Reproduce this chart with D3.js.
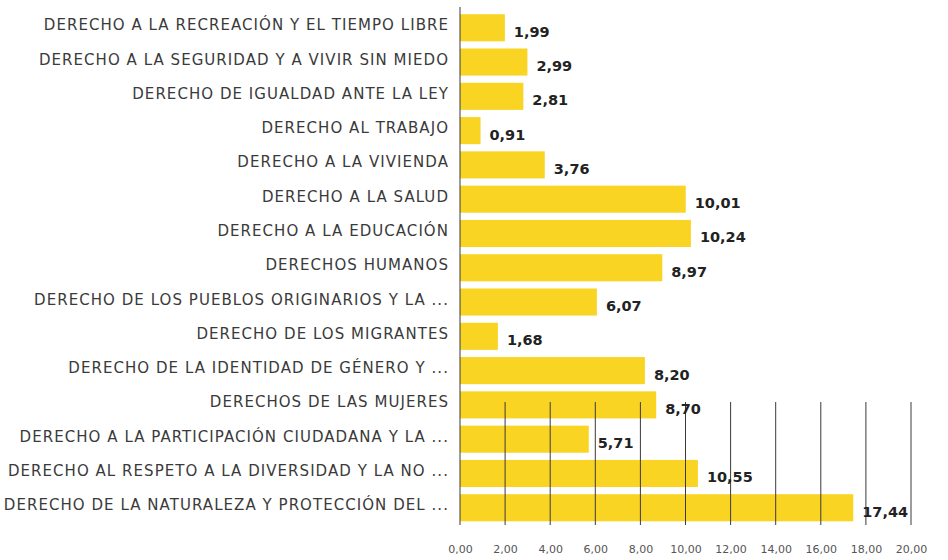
<!DOCTYPE html>
<html>
<head>
<meta charset="utf-8">
<script src="https://cdn.jsdelivr.net/npm/d3@7"></script>
<style>
  body { margin: 0; background: #fff; }
  svg text { font-family: "DejaVu Sans", sans-serif; }
</style>
</head>
<body>
<div id="chart"></div>
<script>
// Horizontal bar chart: percentage per right category

const CATEGORIES = [
  "DERECHO A LA RECREACIÓN Y EL TIEMPO LIBRE",
  "DERECHO A LA SEGURIDAD Y A VIVIR SIN MIEDO",
  "DERECHO DE IGUALDAD ANTE LA LEY",
  "DERECHO AL TRABAJO",
  "DERECHO A LA VIVIENDA",
  "DERECHO A LA SALUD",
  "DERECHO A LA EDUCACIÓN",
  "DERECHOS HUMANOS",
  "DERECHO DE LOS PUEBLOS ORIGINARIOS Y LA ...",
  "DERECHO DE LOS MIGRANTES",
  "DERECHO DE LA IDENTIDAD DE GÉNERO Y ...",
  "DERECHOS DE LAS MUJERES",
  "DERECHO A LA PARTICIPACIÓN CIUDADANA Y LA ...",
  "DERECHO AL RESPETO A LA DIVERSIDAD Y LA NO ...",
  "DERECHO DE LA NATURALEZA Y PROTECCIÓN DEL ...",
];

const VALUES = [1.99, 2.99, 2.81, 0.91, 3.76, 10.01, 10.24, 8.97, 6.07, 1.68, 8.20, 8.70, 5.71, 10.55, 17.44];

const X_TICKS = [0, 2, 4, 6, 8, 10, 12, 14, 16, 18, 20];

const W = 948, H = 560;
const BAR_COLOR = "#F9D423";
const fmt = d => d3.format(".2f")(d).replace(".", ",");

const data = CATEGORIES.map((c, i) => ({ cat: c, value: VALUES[i] }));

const x = d3.scaleLinear().domain([0, 20]).range([460, 911]);
const y = d3.scaleBand().domain(CATEGORIES).range([12.5, 523]).paddingInner(0.21).paddingOuter(0.05);

const svg = d3.select("#chart").append("svg").attr("width", W).attr("height", H);

// bars
svg.append("g")
  .selectAll("rect")
  .data(data)
  .join("rect")
    .attr("x", x(0)).attr("y", d => y(d.cat))
    .attr("width", d => x(d.value) - x(0)).attr("height", y.bandwidth())
    .attr("fill", BAR_COLOR);

// gridlines (only drawn over the lower part, as in the source)
const gridTop = 402, gridBottom = 525;
svg.append("g")
  .selectAll("line")
  .data(X_TICKS.slice(1))
  .join("line")
    .attr("x1", d => x(d)).attr("x2", d => x(d))
    .attr("y1", gridTop).attr("y2", gridBottom)
    .attr("stroke", "#3a3a3a").attr("stroke-width", 1);

// vertical axis line
svg.append("line")
  .attr("x1", x(0)).attr("x2", x(0)).attr("y1", 7).attr("y2", gridBottom)
  .attr("stroke", "#3a3a3a").attr("stroke-width", 1);

// x tick labels
svg.append("g")
  .attr("transform", `translate(0,${gridBottom})`)
  .call(d3.axisBottom(x).tickValues(X_TICKS).tickSize(0).tickPadding(20).tickFormat(fmt))
  .call(ax => ax.select(".domain").remove())
  .selectAll("text")
    .style("font-family", "'DejaVu Sans', sans-serif")
    .style("font-size", "11px").style("fill", "#555");

// category labels
svg.append("g")
  .selectAll("text")
  .data(data)
  .join("text")
    .attr("x", 449).attr("y", d => y(d.cat) + y.bandwidth() / 2 - 2)
    .attr("text-anchor", "end").attr("dominant-baseline", "middle")
    .style("font-size", "15px").style("letter-spacing", "1.05px").style("fill", "#3a3a3a")
    .text(d => d.cat);

// value labels
svg.append("g")
  .selectAll("text")
  .data(data)
  .join("text")
    .attr("x", d => x(d.value) + 9).attr("y", d => y(d.cat) + y.bandwidth() / 2 + 9)
    .style("font-size", "14.5px").style("font-weight", 700).style("fill", "#222")
    .text(d => fmt(d.value));
</script>
</body>
</html>
